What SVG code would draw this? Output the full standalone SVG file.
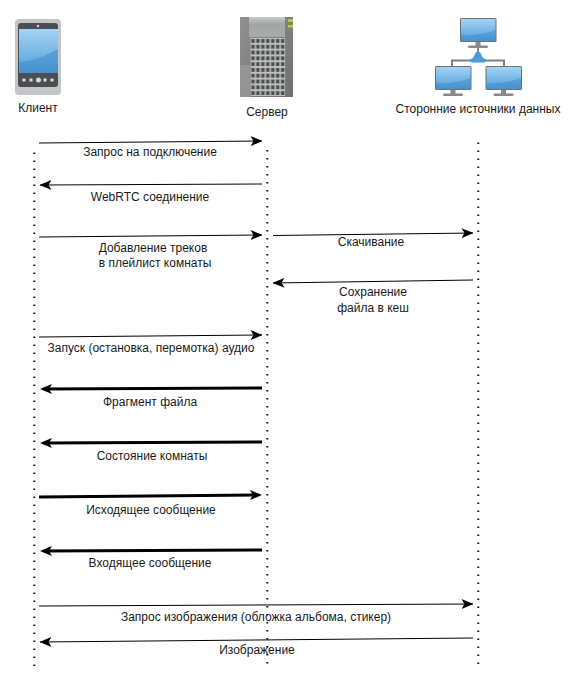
<svg xmlns="http://www.w3.org/2000/svg" width="579" height="697" viewBox="0 0 579 697">
<style>
text{font-family:"Liberation Sans",Arial,sans-serif;font-size:12px;fill:#1a1a1a;text-anchor:middle}
.l{stroke:#000;stroke-width:1.8;stroke-dasharray:1.6 6.4;fill:none}
.c{stroke:#000;stroke-width:1;fill:none}
.t{stroke:#000;stroke-width:3;fill:none}
.stand{fill:#85898a}
.bez{fill:#6d7375}
.scr{fill:url(#sg)}
.shine{fill:#3f8ccb;opacity:.55}
</style>
<defs>
<filter id="b" x="-5%" y="-5%" width="110%" height="110%"><feGaussianBlur stdDeviation="0.35"/></filter>
<marker id="a" viewBox="0 0 12 10" refX="11.500" refY="5" markerWidth="12" markerHeight="10" markerUnits="userSpaceOnUse" orient="auto"><path d="M0 0L12 5L0 10L3 5Z" fill="#000"/></marker>
<marker id="h" viewBox="0 0 12 10" refX="8" refY="5" markerWidth="12" markerHeight="10" markerUnits="userSpaceOnUse" orient="auto"><path d="M0 0L12 5L0 10L3 5Z" fill="#000"/></marker>
<linearGradient id="sg" x1="0" y1="0" x2="0" y2="1"><stop offset="0" stop-color="#a4d2f3"/><stop offset="0.65" stop-color="#6db2e4"/><stop offset="1" stop-color="#4f9ad6"/></linearGradient>
<linearGradient id="srv" x1="0" y1="0" x2="1" y2="1"><stop offset="0" stop-color="#8f918f"/><stop offset="1" stop-color="#6f7170"/></linearGradient>
<linearGradient id="top" x1="0" y1="0" x2="0" y2="1"><stop offset="0" stop-color="#c9caca"/><stop offset="0.35" stop-color="#a3a5a4"/><stop offset="1" stop-color="#a9abaa"/></linearGradient>
<pattern id="win" width="4.950" height="5.800" patternUnits="userSpaceOnUse" x="250.500" y="38"><rect width="4.950" height="5.800" fill="#bdbebe"/><rect x="0.800" y="1" width="3.400" height="3.800" fill="#4e5050"/></pattern>
<g id="mon"><rect x="15.500" y="23" width="5" height="5.500" class="stand"/><rect x="8" y="27.500" width="20" height="2.500" rx="1.200" class="stand"/><rect x="0" y="0" width="36.500" height="24" rx="1.500" class="bez"/><rect x="1" y="1" width="34.500" height="22" class="scr"/><path class="shine" d="M1 23V17C12 18 25 16 35.500 12V23Z"/></g>
</defs>
<g id="lifelines">
<path class="l" d="M34.300 152.500V667"/>
<path class="l" d="M267.300 150V665"/>
<path class="l" d="M478.300 142.500V665"/>
</g>
<g id="client" >
<g filter="url(#b)">
<rect x="15" y="19" width="46" height="76" rx="4" fill="#c4c5c5"/>
<rect x="18" y="23" width="40" height="64" rx="3" fill="#4c4f52"/>
<rect x="19" y="29" width="39" height="44" fill="url(#sg)"/>
<path class="shine" d="M19 73V62C32 61 46 56 58 49V73Z"/>
<circle cx="38" cy="26" r="1.300" fill="#ccc"/>
<g fill="#d5d5d5"><circle cx="24" cy="80" r="1.800"/><circle cx="31" cy="80" r="1.800"/><circle cx="38.500" cy="80" r="2.500"/><circle cx="45" cy="80" r="1.800"/><circle cx="52" cy="80" r="1.800"/></g>
</g>
<text x="38" y="112">Клиент</text>
</g>
<g id="server">
<g filter="url(#b)">
<rect x="240" y="17" width="53" height="80" fill="url(#srv)"/>
<rect x="249" y="17" width="36" height="20" fill="url(#top)"/>
<rect x="250.500" y="38" width="34.700" height="58" fill="url(#win)"/>
<rect x="240" y="65" width="10" height="32" fill="#9a9c9b" opacity=".7"/>
<rect x="288" y="19" width="5" height="3" fill="#b6c94a"/><rect x="288" y="25" width="5" height="2.500" fill="#b6c94a"/>
</g>
<text x="267" y="116">Сервер</text>
</g>
<g id="sources">
<g filter="url(#b)">
<path d="M478 42V60M452 68V60.500H504V68" fill="none" stroke="#7d8284" stroke-width="2"/>
<path d="M476 52L480 52L483 58L488 60.500L484 62.500H472L468 60.500L473 58Z" fill="#4f9ad6"/>
<use href="#mon" x="460" y="18"/>
<use href="#mon" x="435" y="66"/>
<use href="#mon" x="485.500" y="66"/>
</g>
<text x="478" y="113">Сторонние источники данных</text>
</g>
<g id="connectors">
<path class="c" marker-end="url(#a)" d="M39 143L262 141"/>
<path class="c" marker-end="url(#a)" d="M262 184L40 185"/>
<path class="c" marker-end="url(#a)" d="M39 237L262 235"/>
<path class="c" marker-end="url(#a)" d="M273 235.500L473 233"/>
<path class="c" marker-end="url(#a)" d="M473 280L273 283"/>
<path class="c" marker-end="url(#a)" d="M39 337L262 335"/>
<path class="t" marker-end="url(#h)" d="M262 388L44 389"/>
<path class="t" marker-end="url(#h)" d="M262 442L44 443"/>
<path class="t" marker-end="url(#h)" d="M39 497L258 495"/>
<path class="t" marker-end="url(#h)" d="M262 550L44 551"/>
<path class="c" marker-end="url(#a)" d="M39 606L473 604"/>
<path class="c" marker-end="url(#a)" d="M473 638L40 642"/>
</g>
<g id="labels">
<text x="150" y="156">Запрос на подключение</text>
<text x="150" y="201">WebRTC соединение</text>
<text x="153" y="252">Добавление треков</text>
<text x="155" y="267">в плейлист комнаты</text>
<text x="371" y="246">Скачивание</text>
<text x="373" y="296">Сохранение</text>
<text x="373" y="312">файла в кеш</text>
<text x="151" y="352">Запуск (остановка, перемотка) аудио</text>
<text x="150" y="406">Фрагмент файла</text>
<text x="152" y="460">Состояние комнаты</text>
<text x="151" y="514">Исходящее сообщение</text>
<text x="150" y="567">Входящее сообщение</text>
<text x="256" y="621">Запрос изображения (обложка альбома, стикер)</text>
<text x="257" y="654">Изображение</text>
</g>
</svg>
